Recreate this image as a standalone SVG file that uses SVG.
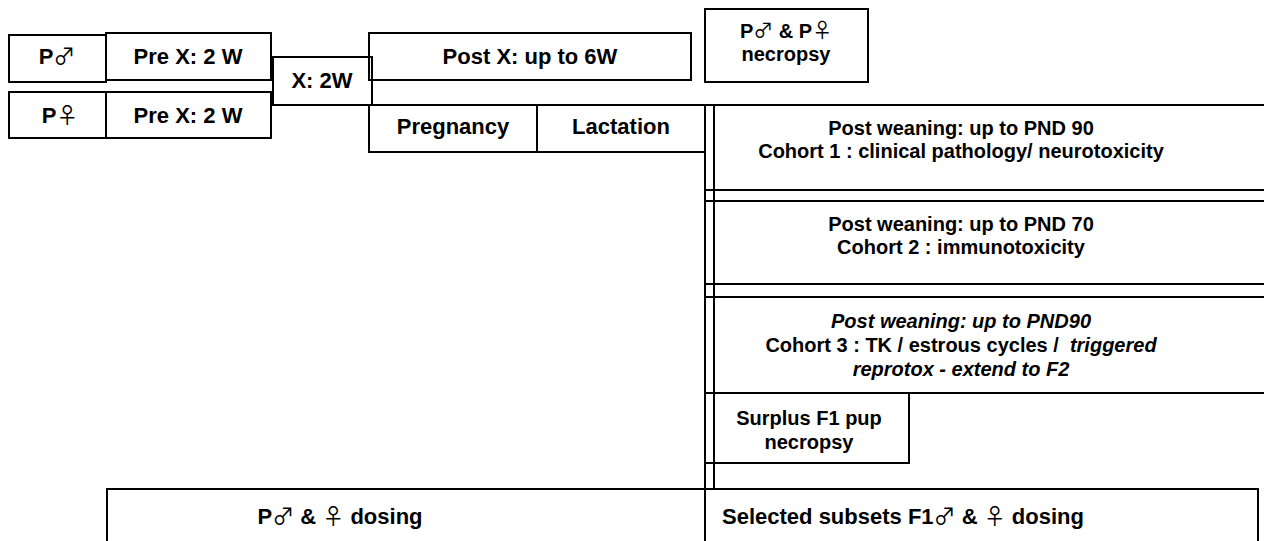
<svg xmlns="http://www.w3.org/2000/svg" width="1264" height="541" viewBox="0 0 1264 541">
<style>
.bx{fill:none;stroke:#000;stroke-width:2}
.t{font-family:"Liberation Sans",Arial,sans-serif;font-weight:bold;font-size:22px;text-anchor:middle;fill:#000}
.m{font-size:20px}
.i{font-style:italic}
.s{font-family:"Noto Sans CJK JP","DejaVu Sans",sans-serif;font-weight:normal}
</style>
<rect width="1264" height="541" fill="#fff"/>
<g id="p-male"><rect class="bx" x="9" y="35" width="97" height="47"/><text class="t" x="57" y="64">P<tspan class="s">♂</tspan></text></g>
<g id="prex-male"><rect class="bx" x="106" y="33" width="165" height="47"/><text class="t" x="188" y="64">Pre X: 2 W</text></g>
<g id="p-female"><rect class="bx" x="9" y="92" width="97" height="46"/><text class="t" x="60" y="123">P<tspan class="s">♀</tspan></text></g>
<g id="prex-female"><rect class="bx" x="106" y="92" width="165" height="46"/><text class="t" x="188" y="123">Pre X: 2 W</text></g>
<g id="x-2w"><rect class="bx" x="273" y="57" width="99" height="48"/><text class="t" x="322" y="88">X: 2W</text></g>
<g id="postx"><rect class="bx" x="369" y="33" width="322" height="47"/><text class="t" x="530" y="64">Post X: up to 6W</text></g>
<g id="necropsy-p"><rect class="bx" x="705" y="9" width="163" height="73"/><text class="t m" x="786" y="38">P<tspan class="s">♂</tspan> &amp; P<tspan class="s">♀</tspan></text><text class="t m" x="786" y="61">necropsy</text></g>
<g id="pregnancy"><rect class="bx" x="369" y="105" width="168" height="47"/><text class="t" x="453" y="134">Pregnancy</text></g>
<g id="lactation"><rect class="bx" x="537" y="105" width="168" height="47"/><text class="t" x="621" y="134">Lactation</text></g>
<g id="cohort1"><rect class="bx" x="705" y="105" width="570" height="85"/><text class="t m" x="961" y="135">Post weaning: up to PND 90</text><text class="t m" x="961" y="158">Cohort 1 : clinical pathology/ neurotoxicity</text></g>
<g id="cohort2"><rect class="bx" x="705" y="201" width="570" height="83"/><text class="t m" x="961" y="231">Post weaning: up to PND 70</text><text class="t m" x="961" y="254">Cohort 2 : immunotoxicity</text></g>
<g id="cohort3"><rect class="bx" x="705" y="297" width="570" height="96"/><text class="t m i" x="961" y="328">Post weaning: up to PND90</text><text class="t m" x="961" y="352" xml:space="preserve">Cohort 3 : TK / estrous cycles /  <tspan class="i">triggered</tspan></text><text class="t m i" x="961" y="376">reprotox - extend to F2</text></g>
<g id="surplus"><rect class="bx" x="705" y="393" width="204" height="70"/><text class="t m" x="809" y="425">Surplus F1 pup</text><text class="t m" x="809" y="449">necropsy</text></g>
<g id="weaning-bar"><rect class="bx" x="705" y="105" width="9" height="384"/></g>
<g id="p-dosing"><rect class="bx" x="107" y="489" width="598" height="60"/><text class="t" x="340" y="524">P<tspan class="s">♂</tspan> &amp; <tspan class="s">♀</tspan> dosing</text></g>
<g id="f1-dosing"><rect class="bx" x="705" y="489" width="553" height="60"/><text class="t" x="903" y="524">Selected subsets F1<tspan class="s">♂</tspan> &amp; <tspan class="s">♀</tspan> dosing</text></g>
<g id="connectors"/>
</svg>
